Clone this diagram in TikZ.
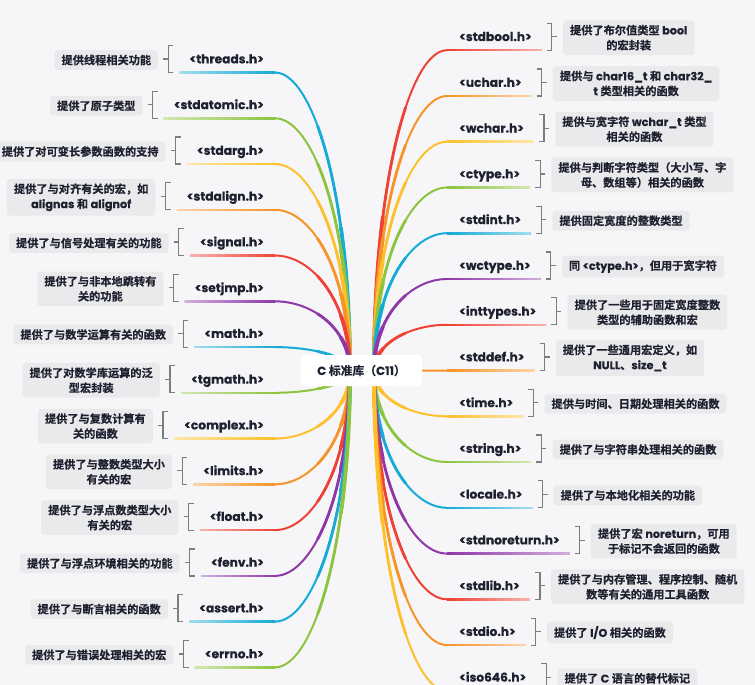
\documentclass[tikz,border=0pt]{standalone}
\usepackage{fontspec}
\setmainfont{Noto Sans CJK SC}
\newfontfamily\cjk{Noto Sans CJK SC Bold}[FakeBold=0.4]
\newfontfamily\hfont{Poppins Bold}[FakeBold=0.5]
\usetikzlibrary{calc}
\definecolor{bg}{RGB}{246,246,249}
\definecolor{boxgray}{RGB}{234,234,236}
\definecolor{brkgray}{RGB}{125,125,125}
\definecolor{ink}{RGB}{30,34,48}
\definecolor{cred}{RGB}{239,66,54}
\definecolor{corange}{RGB}{247,148,40}
\definecolor{cyellow}{RGB}{252,193,45}
\definecolor{cgreen}{RGB}{141,196,63}
\definecolor{ccyan}{RGB}{22,170,214}
\definecolor{cpurple}{RGB}{142,56,168}
\newcommand\lat[1]{{\hfont #1}}
\tikzset{
  hdr/.style={font=\hfont\fontsize{12.2}{14}\selectfont, text=ink, inner sep=0pt},
  desc/.style={fill=boxgray, rounded corners=3pt, inner xsep=7pt, inner ysep=4.5pt,
    align=center, text=ink, font=\cjk\fontsize{11.2}{15}\selectfont},
  brk/.style={draw=brkgray, line width=1.2pt},
  rootbox/.style={fill=white, rounded corners=4pt, minimum width=121pt, minimum height=31pt,
    inner sep=0pt, text=ink, font=\cjk\fontsize{11.8}{14}\selectfont}
}
% sub-curve [0,a] of the Bezier P0 P1 P2 P3
\newcommand\subcurve[1]{%
  \coordinate (q1) at ($(P0)!#1!(P1)$);
  \coordinate (p12) at ($(P1)!#1!(P2)$);
  \coordinate (p23) at ($(P2)!#1!(P3)$);
  \coordinate (q2) at ($(q1)!#1!(p12)$);
  \coordinate (p123) at ($(p12)!#1!(p23)$);
  \coordinate (q3) at ($(q2)!#1!(p123)$);
}
\newcommand\branch[1]{%
  \draw[#1, line width=2pt, line cap=round] (P0) .. controls (P1) and (P2) .. (P3);
  \subcurve{0.6}
  \draw[#1, line width=2.8pt, line cap=round] (P0) .. controls (q1) and (q2) .. (q3);
  \subcurve{0.3}
  \draw[#1, line width=3.8pt, line cap=round] (P0) .. controls (q1) and (q2) .. (q3);
}
% left item: id, label y, colour, header, description
\newcommand\litem[5]{%
  \node[hdr, anchor=base east] (h#1) at (264,#2+4.3) {#4};
  \coordinate (e#1) at (275,#2+13.5);
  \coordinate (s#1) at ([xshift=-10pt]h#1.west |- e#1);
  \coordinate (P0) at (350,371);
  \coordinate (P1) at (350,{371+(#2+13.5-371)*0.6});
  \coordinate (P2) at (312.5,#2+13.5);
  \coordinate (P3) at (e#1);
  \branch{#3}
  \shade[left color=#3!40!white, right color=#3] ([yshift=0.8pt]s#1) rectangle ([yshift=-0.8pt]e#1);
  \draw[brk] ([xshift=-6pt]s#1) -- ++(-5,0) -- ++(0,-27) -- ++(5,0);
  \draw[brk] ([xshift=-11pt]s#1) ++(0,-13.5) -- ++(-5,0);
  \node[desc, anchor=east] (d#1) at ([xshift=-21pt,yshift=12.5pt]s#1) {#5};
}
% right item
\newcommand\ritem[5]{%
  \node[hdr, anchor=base west] (h#1) at (459,#2+4.3) {#4};
  \coordinate (s#1) at (447,#2+13.5);
  \coordinate (e#1) at ([xshift=10pt]h#1.east |- s#1);
  \coordinate (P0) at (374,371);
  \coordinate (P1) at (374,{371+(#2+13.5-371)*0.6});
  \coordinate (P2) at (410.5,#2+13.5);
  \coordinate (P3) at (s#1);
  \branch{#3}
  \shade[left color=#3, right color=#3!40!white] ([yshift=0.8pt]s#1) rectangle ([yshift=-0.8pt]e#1);
  \draw[brk] ([xshift=5pt]e#1) -- ++(5,0) -- ++(0,-27) -- ++(-5,0);
  \draw[brk] ([xshift=10pt]e#1) ++(0,-13.5) -- ++(5,0);
  \node[desc, anchor=west] (d#1) at ([xshift=21pt,yshift=12.5pt]e#1) {#5};
}
\begin{document}
\begin{tikzpicture}[x=1pt,y=-1pt]
\useasboundingbox (0,0) rectangle (755,685);
\fill[bg] (0,0) rectangle (755,685);

\litem{L0}{59}{ccyan}{<threads.h>}{提供线程相关功能}
\litem{L1}{104.8}{cgreen}{<stdatomic.h>}{提供了原子类型}
\litem{L2}{150.5}{cyellow}{<stdarg.h>}{提供了对可变长参数函数的支持}
\litem{L3}{196.3}{corange}{<stdalign.h>}{提供了与对齐有关的宏，如\\\lat{alignas} 和 \lat{alignof}}
\litem{L4}{242}{cred}{<signal.h>}{提供了与信号处理有关的功能}
\litem{L5}{287.8}{cpurple}{<setjmp.h>}{提供了与非本地跳转有\\关的功能}
\litem{L6}{333.6}{ccyan}{<math.h>}{提供了与数学运算有关的函数}
\litem{L7}{379.3}{cgreen}{<tgmath.h>}{提供了对数学库运算的泛\\型宏封装}
\litem{L8}{425.1}{cyellow}{<complex.h>}{提供了与复数计算有\\关的函数}
\litem{L9}{470.8}{corange}{<limits.h>}{提供了与整数类型大小\\有关的宏}
\litem{L10}{516.6}{cred}{<float.h>}{提供了与浮点数类型大小\\有关的宏}
\litem{L11}{562.4}{cpurple}{<fenv.h>}{提供了与浮点环境相关的功能}
\litem{L12}{608.1}{ccyan}{<assert.h>}{提供了与断言相关的函数}
\litem{L13}{653.9}{cgreen}{<errno.h>}{提供了与错误处理相关的宏}

\ritem{R0}{36.7}{cred}{<stdbool.h>}{提供了布尔值类型 \lat{bool}\\的宏封装}
\ritem{R1}{82.5}{corange}{<uchar.h>}{提供与 \lat{char16\_t} 和 \lat{char32\_}\\\lat{t} 类型相关的函数}
\ritem{R2}{128.2}{cyellow}{<wchar.h>}{提供与宽字符 \lat{wchar\_t} 类型\\相关的函数}
\ritem{R3}{174}{cgreen}{<ctype.h>}{提供与判断字符类型（大小写、字\\母、数组等）相关的函数}
\ritem{R4}{219.7}{ccyan}{<stdint.h>}{提供固定宽度的整数类型}
\ritem{R5}{265.5}{cpurple}{<wctype.h>}{同 \lat{<ctype.h>}，但用于宽字符}
\ritem{R6}{311.3}{cred}{<inttypes.h>}{提供了一些用于固定宽度整数\\类型的辅助函数和宏}
\ritem{R7}{357}{corange}{<stddef.h>}{提供了一些通用宏定义，如\\\lat{NULL}、\lat{size\_t}}
\ritem{R8}{402.8}{cyellow}{<time.h>}{提供与时间、日期处理相关的函数}
\ritem{R9}{448.5}{cgreen}{<string.h>}{提供了与字符串处理相关的函数}
\ritem{R10}{494.3}{ccyan}{<locale.h>}{提供了与本地化相关的功能}
\ritem{R11}{540.1}{cpurple}{<stdnoreturn.h>}{提供了宏 \lat{noreturn}，可用\\于标记不会返回的函数}
\ritem{R12}{585.8}{cred}{<stdlib.h>}{提供了与内存管理、程序控制、随机\\数等有关的通用工具函数}
\ritem{R13}{631.6}{corange}{<stdio.h>}{提供了 \lat{I/O} 相关的函数}
\ritem{R14}{677.3}{cyellow}{<iso646.h>}{提供了 \lat{C} 语言的替代标记}

\node[rootbox] (root) at (361.5,370.5) {\lat{C} 标准库（\lat{C11}）};
\end{tikzpicture}
\end{document}
